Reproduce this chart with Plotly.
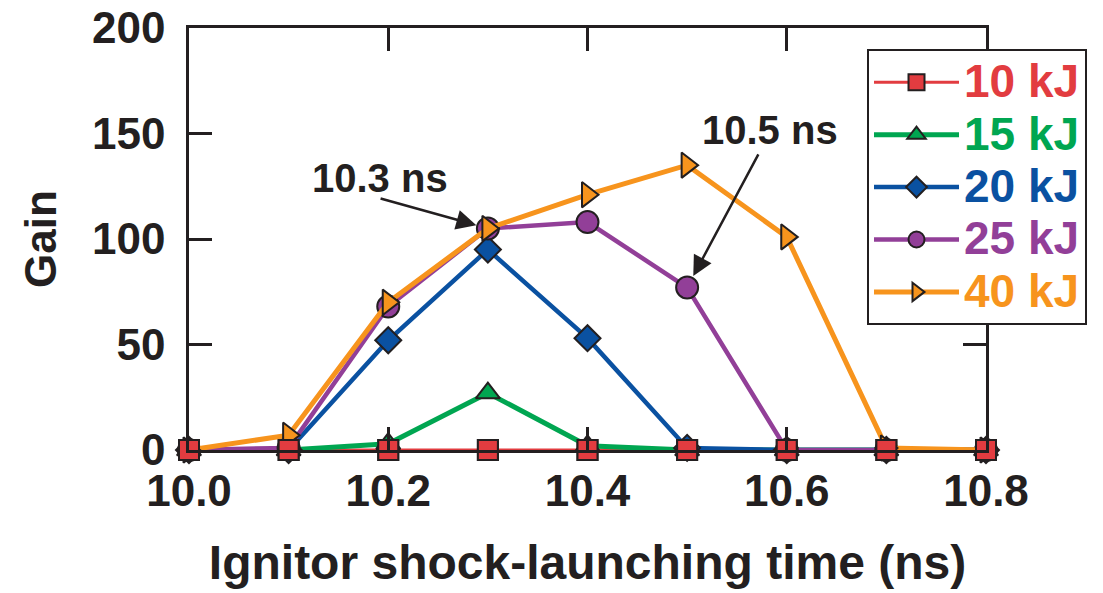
import plotly.graph_objects as go

time_ns = [10.0, 10.1, 10.2, 10.3, 10.4, 10.5, 10.6, 10.7, 10.8]
gain_10kJ = [0, 0, 0, 0, 0, 0, 0, 0, 0]
gain_15kJ = [0, 0, 3, 27, 2, 0, 0, 0, 0]
gain_20kJ = [0, 0, 52, 95, 53, 1, 0, 0, 0]
gain_25kJ = [0, 1, 68, 105, 108, 77, 0, 0, 0]
gain_40kJ = [0, 7, 70, 105, 121, 135, 101, 1, 0]

labels = ["10 kJ", "15 kJ", "20 kJ", "25 kJ", "40 kJ"]
colors = ["#e23c40", "#00a651", "#0a51a1", "#923f98", "#f7941d"]
symbols = ["square", "triangle-up", "diamond", "circle", "triangle-right"]
sizes = [20, 21, 20, 22, 22]
widths = [3, 5, 4.5, 4.5, 5]
series = [gain_10kJ, gain_15kJ, gain_20kJ, gain_25kJ, gain_40kJ]

DARK = "#231f20"
FONT = "Liberation Sans"

fig = go.Figure()
for name, col, sym, sz, lw, ys in zip(labels, colors, symbols, sizes, widths, series):
    fig.add_trace(go.Scatter(
        x=time_ns, y=ys, mode="lines+markers",
        name=f'<span style="color:{col};font-size:46px">{name}</span>',
        line=dict(color=col, width=lw),
        marker=dict(symbol=sym, size=sz, color=col, line=dict(color=DARK, width=2)),
        cliponaxis=False,
    ))
# red markers on top
fig.add_trace(go.Scatter(
    x=time_ns, y=gain_10kJ, mode="markers", showlegend=False,
    marker=dict(symbol="square", size=20, color=colors[0], line=dict(color=DARK, width=2)),
    cliponaxis=False,
))

axis_common = dict(
    showline=True, linecolor=DARK, linewidth=2.5, mirror="ticks",
    ticks="inside", ticklen=23, tickwidth=2.5, tickcolor=DARK,
    showgrid=False, zeroline=False, automargin=False,
    tickfont=dict(family=FONT, size=44, color=DARK, weight="bold"),
)

fig.update_xaxes(
    range=[10.0, 10.8], tickvals=[10.0, 10.2, 10.4, 10.6, 10.8],
    ticktext=["10.0", "10.2", "10.4", "10.6", "10.8"],
    title=dict(text="Ignitor shock-launching time (ns)",
               font=dict(family=FONT, size=48, color=DARK, weight="bold"), standoff=32),
    **axis_common,
)
fig.update_yaxes(
    range=[0, 200], tickvals=[0, 50, 100, 150, 200],
    ticklabelstandoff=12,
    title=dict(text="Gain", font=dict(family=FONT, size=44, color=DARK, weight="bold"), standoff=22),
    **axis_common,
)

ann_font = dict(family=FONT, size=40, color=DARK, weight="bold")
fig.add_annotation(x=10.1918, y=129, text="10.3 ns", showarrow=False, font=ann_font)
fig.add_annotation(x=10.5833, y=151.7, text="10.5 ns", showarrow=False, font=ann_font)
fig.add_annotation(x=10.3, y=105, ax=10.1908, ay=119.4, axref="x", ayref="y",
                   text="", showarrow=True, arrowhead=2, arrowsize=1.6, arrowwidth=2.5,
                   arrowcolor=DARK, standoff=12)
fig.add_annotation(x=10.5, y=77, ax=10.5723, ay=140.8, axref="x", ayref="y",
                   text="", showarrow=True, arrowhead=2, arrowsize=1.6, arrowwidth=2.5,
                   arrowcolor=DARK, standoff=13)

fig.update_layout(
    width=1103, height=593,
    margin=dict(l=189, r=117, t=28, b=143),
    paper_bgcolor="white", plot_bgcolor="white",
    legend=dict(
        x=0.8507, y=0.95, xanchor="left", yanchor="top",
        bgcolor="white", bordercolor=DARK, borderwidth=2,
        font=dict(family=FONT, size=38, weight="bold"),
        itemwidth=85, tracegroupgap=0,
    ),
)

fig.write_html("out.html")
